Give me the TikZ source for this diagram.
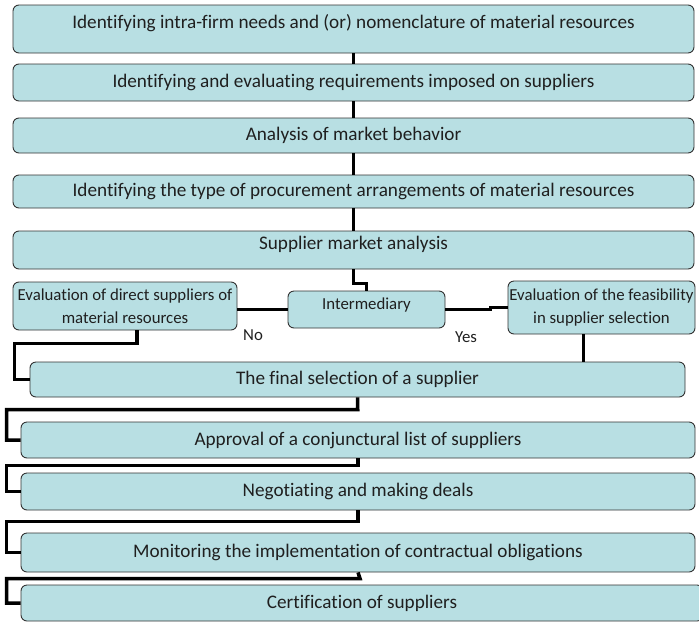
\documentclass[tikz,border=0pt]{standalone}
\usepackage{fontspec}
\setmainfont{Carlito}[Ligatures=NoCommon]
\usetikzlibrary{positioning,calc}
\definecolor{boxfill}{RGB}{184,223,227}

\begin{document}
\begin{tikzpicture}[x=1pt,y=-1pt,
            stage/.style={rectangle,rounded corners=6pt,draw=black!80,line width=0.9pt,fill=boxfill,text=black!88,inner sep=0pt,font=\fontsize{19.2}{23}\selectfont},
            small/.style={stage,align=center,font=\fontsize{16.8}{23}\selectfont},
            wire/.style={draw=black,line width=3.5pt},
            note/.style={text=black!88,font=\fontsize{16.8}{20}\selectfont}]

            \useasboundingbox (0,0) rectangle (699,622);

            % main chain
            \node[stage,minimum width=681,minimum height=48,text height=13pt,text depth=14pt] (needs) at (353.5,29) {Identifying intra-firm needs and (or) nomenclature of material resources};
            \node[stage,minimum width=681,minimum height=37] (reqs) at (353.5,82.5) {Identifying and evaluating requirements imposed on suppliers};
            \node[stage,minimum width=681,minimum height=35] (behavior) at (353.5,135.5) {Analysis of market behavior};
            \node[stage,minimum width=681,minimum height=33] (procure) at (353.5,191.5) {Identifying the type of procurement arrangements of material resources};
            \node[stage,minimum width=681,minimum height=38,text height=13pt,text depth=14pt] (market) at (353.5,250) {Supplier market analysis};

            % branch
            \node[small,minimum width=224,minimum height=48] (direct) at (125,306) {Evaluation of direct suppliers of\\material resources};
            \node[small,minimum width=157,minimum height=37,text height=11pt,text depth=12pt] (inter) at (366.5,309.5) {Intermediary};
            \node[small,minimum width=187,minimum height=53] (feasible) at (601.5,307.5) {Evaluation of the feasibility\\in supplier selection};
            \node[note] (no) at (253,335) {No};
            \node[note] (yes) at (466,337) {Yes};

            \node[stage,minimum width=655,minimum height=35] (final) at (357.5,379.5) {The final selection of a supplier};
            \node[stage,minimum width=674,minimum height=36] (approve) at (358,440) {Approval of a conjunctural list of suppliers};
            \node[stage,minimum width=674,minimum height=37] (deals) at (358,491.5) {Negotiating and making deals};
            \node[stage,minimum width=674,minimum height=39] (monitor) at (358,552.5) {Monitoring the implementation of contractual obligations};
            \node[stage,minimum width=682,minimum height=36] (certify) at (362,603) {Certification of suppliers};

            \foreach \a/\b in {needs/reqs,reqs/behavior,behavior/procure,procure/market}
               \draw[wire,line width=3pt] (\a) -- (\b);
            \draw[wire] (market.south) -- ++(0,14) -| (inter.north);
            \draw[wire] (inter.west -| direct.east) -- (inter.west);
            \draw[wire] (inter.east) -- ++(45,0) |- (feasible.west);
            \draw[wire] ([xshift=12pt]direct.south) -- ++(0,13) -| ([xshift=-15pt]final.west) -- (final.west);
            \draw[wire] ([xshift=-18pt]feasible.south) -- ([xshift=-18pt]feasible.south |- final.north);

            \foreach \a/\b in {final/approve,approve/deals,deals/monitor,monitor/certify}
               \draw[wire] (\a.south) -- ($(\a.south)!.5!(\b.north)$) -| ([xshift=-14pt]\b.west) -- (\b.west);
         \end{tikzpicture}
\end{document}
